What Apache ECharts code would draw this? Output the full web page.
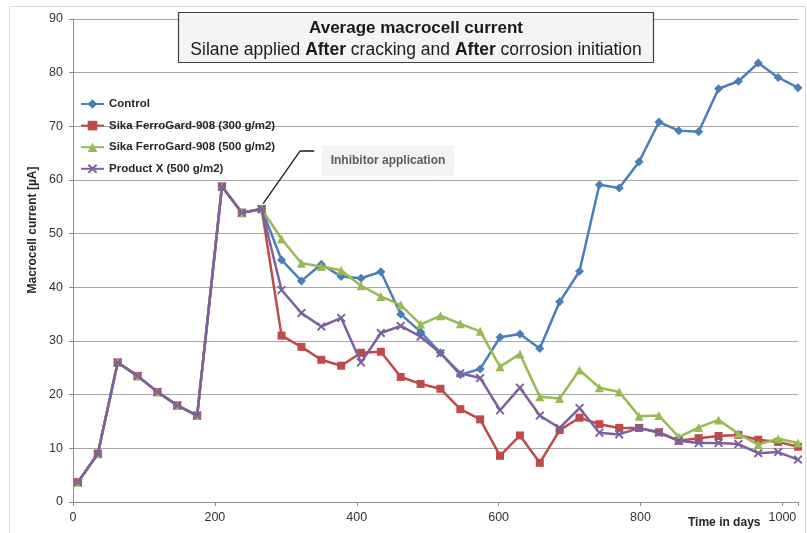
<!DOCTYPE html>
<html>
<head>
<meta charset="utf-8">
<script src="https://cdn.jsdelivr.net/npm/echarts@6/dist/echarts.min.js"></script>
<style>html,body{margin:0;padding:0;background:#fff}#c{width:807px;height:533px}</style>
</head>
<body>
<div id="c"></div>
<script>
var days = [7, 35, 63, 91, 119, 147, 175, 210, 238, 266, 294, 322, 350, 378, 406, 434, 462, 490, 518, 546, 574, 602, 630, 658, 686, 714, 742, 770, 798, 826, 854, 882, 910, 938, 966, 994, 1022];
var control = [3.7, 9.0, 26.0, 23.5, 20.5, 18.0, 16.1, 58.8, 53.9, 54.6, 45.1, 41.2, 44.3, 42.0, 41.7, 42.9, 35.0, 31.7, 27.8, 23.7, 24.8, 30.7, 31.3, 28.6, 37.3, 43.0, 59.1, 58.5, 63.4, 70.8, 69.2, 69.0, 77.0, 78.4, 81.8, 79.1, 77.2];
var sika300 = [3.7, 9.0, 26.0, 23.5, 20.5, 18.0, 16.1, 58.8, 53.9, 54.6, 31.0, 28.9, 26.5, 25.4, 27.8, 28.0, 23.3, 22.0, 21.1, 17.3, 15.4, 8.6, 12.4, 7.3, 13.4, 15.7, 14.5, 13.8, 13.8, 13.0, 11.4, 11.9, 12.3, 12.5, 11.6, 11.2, 10.3];
var sika500 = [3.7, 9.0, 26.0, 23.5, 20.5, 18.0, 16.1, 58.8, 53.9, 54.6, 49.0, 44.5, 43.9, 43.2, 40.3, 38.3, 36.7, 33.1, 34.7, 33.2, 31.8, 25.2, 27.6, 19.6, 19.3, 24.6, 21.3, 20.5, 16.0, 16.1, 12.1, 13.9, 15.3, 12.7, 10.7, 11.8, 11.0];
var productX = [3.7, 9.0, 26.0, 23.5, 20.5, 18.0, 16.1, 58.8, 53.9, 54.6, 39.5, 35.2, 32.7, 34.3, 26.0, 31.5, 32.8, 30.8, 27.7, 24.0, 23.1, 17.1, 21.3, 16.1, 13.8, 17.5, 12.9, 12.6, 13.8, 12.9, 11.4, 11.0, 11.0, 10.8, 9.1, 9.3, 7.9];
var seriesNames = ['Control', 'Sika FerroGard-908 (300 g/m2)', 'Sika FerroGard-908 (500 g/m2)', 'Product X (500 g/m2)'];
var leader = [[268, 55.6], [320, 65.4], [340, 65.4]];
var noteAt = [[444, 63.6]];

var FONT = '"Liberation Sans", sans-serif';
function pairs(v) { return days.map(function (d, i) { return [d, v[i]]; }); }
var xSym = 'path://M0,1.5 L1.5,0 L5,3.5 L8.5,0 L10,1.5 L6.5,5 L10,8.5 L8.5,10 L5,6.5 L1.5,10 L0,8.5 L3.5,5 Z';

var colors = ['#4A7EBB', '#BE4B48', '#98B954', '#7D60A0'];
var symbols = ['diamond', 'rect', 'triangle', xSym];
var sizes = [9, 8, 9, 9];
var vals = [control, sika300, sika500, productX];

var series = vals.map(function (v, i) {
  return {
    name: seriesNames[i], type: 'line', data: pairs(v),
    symbol: symbols[i], symbolSize: sizes[i], showSymbol: true,
    lineStyle: { color: colors[i], width: 2.5 },
    itemStyle: { color: colors[i] },
    z: 2 + i
  };
});
series.push({
  name: 'leader', type: 'line', data: leader, symbol: 'none', silent: true,
  lineStyle: { color: '#1a1a1a', width: 1.3 }, z: 10
});
series.push({
  name: 'note', type: 'scatter', data: noteAt, symbol: 'rect', symbolSize: [132, 30], silent: true,
  itemStyle: { color: '#f0f0f0' }, z: 10,
  label: { show: true, position: 'inside', formatter: 'Inhibitor application', fontFamily: FONT, fontWeight: 'bold', fontSize: 12, color: '#333' }
});

var chart = echarts.init(document.getElementById('c'), null, { renderer: 'canvas' });
chart.setOption({
  animation: false,
  backgroundColor: '#fff',
  grid: { left: 73, top: 19, right: 9, bottom: 31, containLabel: false },
  legend: {
    data: seriesNames, orient: 'vertical', left: 75, top: 93, itemGap: 9.6, itemWidth: 23, itemHeight: 12,
    textStyle: { fontFamily: FONT, fontSize: 11.5, fontWeight: 'bold', color: '#262626' }
  },
  xAxis: {
    type: 'value', min: 0, max: 1022, interval: 200,
    axisLine: { lineStyle: { color: '#8c8c8c', width: 1 } },
    axisTick: { show: true, length: 4, lineStyle: { color: '#8c8c8c' } },
    splitLine: { show: false },
    axisLabel: { margin: 9, fontFamily: FONT, fontSize: 12.5, color: '#333', formatter: function (v) { return v % 200 === 0 ? String(v) : ''; } }
  },
  yAxis: {
    type: 'value', min: 0, max: 90, interval: 10,
    axisLine: { show: true, lineStyle: { color: '#8c8c8c', width: 1 } },
    axisTick: { show: true, length: 4, lineStyle: { color: '#8c8c8c' } },
    splitLine: { lineStyle: { color: '#a6a6a6', width: 1 } },
    axisLabel: { margin: 10, fontFamily: FONT, fontSize: 12.5, color: '#333' }
  },
  graphic: [
    { type: 'rect', shape: { x: 9.5, y: 6.5, width: 796, height: 530 }, style: { fill: 'none', stroke: '#d9d9d9', lineWidth: 1 }, silent: true, z: -1 },
    { type: 'rect', shape: { x: 178.5, y: 12.5, width: 475, height: 50 }, style: { fill: '#f4f4f4', stroke: '#404040', lineWidth: 1.2 }, silent: true, z: 20 },
    { type: 'text', x: 416, y: 28, z: 21, silent: true, style: { text: 'Average macrocell current', fontFamily: FONT, fontSize: 17, fontWeight: 'bold', fill: '#1a1a1a', align: 'center', verticalAlign: 'middle' } },
    { type: 'text', x: 416, y: 50, z: 21, silent: true, style: {
      text: '{n|Silane applied }{b|After}{n| cracking and }{b|After}{n| corrosion initiation}',
      align: 'center', verticalAlign: 'middle',
      rich: { n: { fontFamily: FONT, fontSize: 17.5, fill: '#1a1a1a' }, b: { fontFamily: FONT, fontSize: 17.5, fontWeight: 'bold', fill: '#1a1a1a' } }
    } },
    { type: 'text', x: 33, y: 230, rotation: Math.PI / 2, z: 21, silent: true, style: { text: 'Macrocell current [µA]', fontFamily: FONT, fontSize: 12, fontWeight: 'bold', fill: '#262626', align: 'center', verticalAlign: 'middle' } },
    { type: 'text', x: 688, y: 523, z: 21, silent: true, style: { text: 'Time in days', fontFamily: FONT, fontSize: 12, fontWeight: 'bold', fill: '#262626', align: 'left', verticalAlign: 'middle' } }
  ],
  series: series
});
</script>
</body>
</html>
